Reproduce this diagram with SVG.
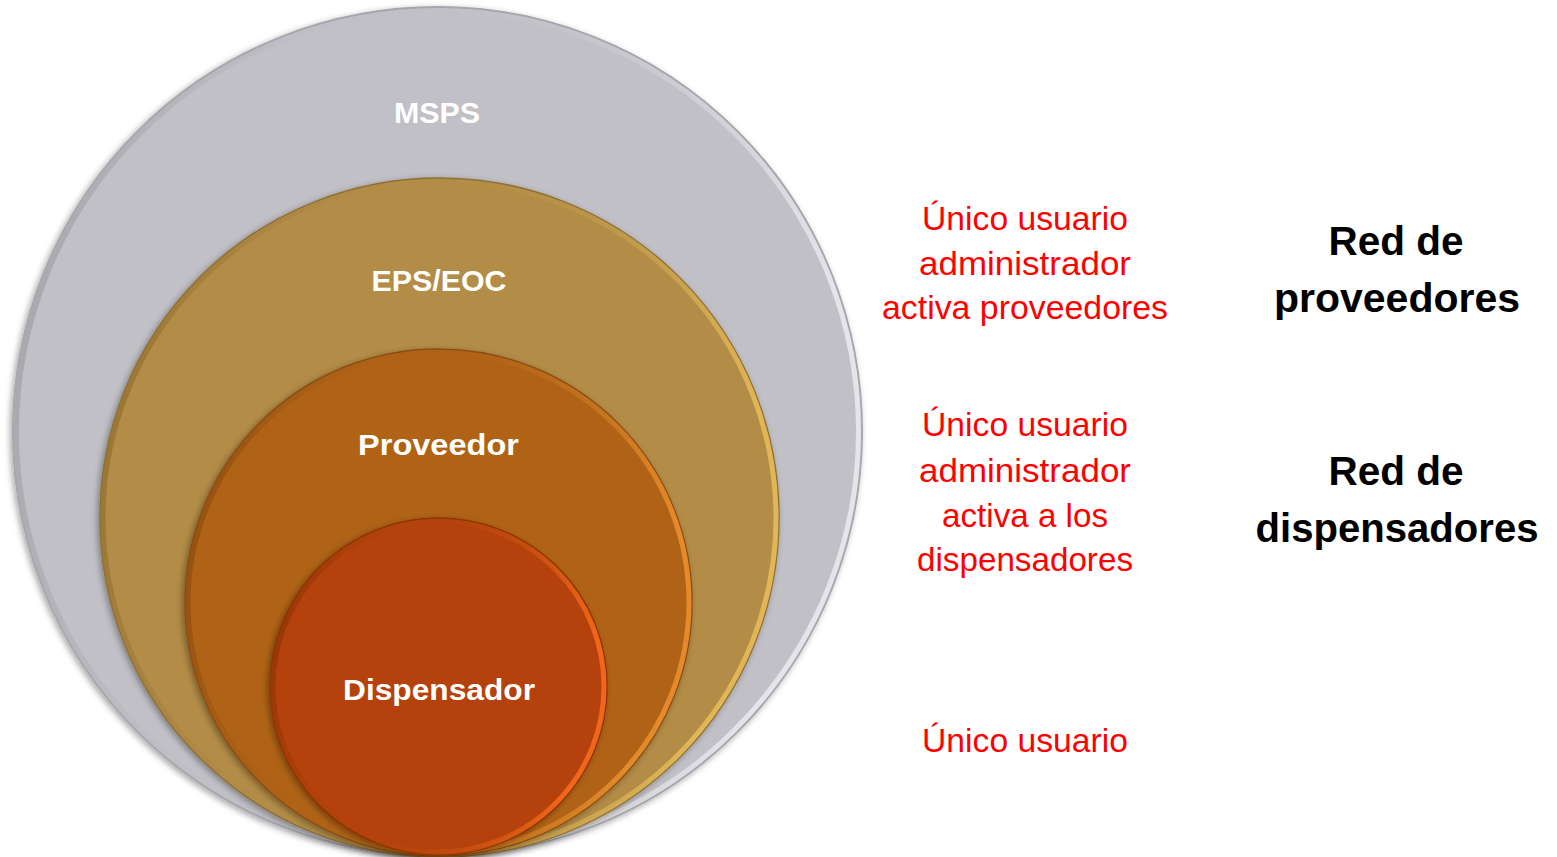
<svg xmlns="http://www.w3.org/2000/svg" width="1557" height="857" viewBox="0 0 1557 857">
  <defs>
    <filter id="shadow" x="-10%" y="-10%" width="120%" height="120%">
      <feDropShadow dx="-2" dy="2" stdDeviation="3" flood-color="#000" flood-opacity="0.35"/>
    </filter>
    <linearGradient id="rimGray" x1="0" y1="0" x2="1" y2="0.2">
      <stop offset="0" stop-color="#9C9CA2"/>
      <stop offset="0.45" stop-color="#C1C0C6" stop-opacity="0"/>
      <stop offset="1" stop-color="#E4E4EA"/>
    </linearGradient>
    <linearGradient id="rimEps" x1="0" y1="0" x2="1" y2="0.2">
      <stop offset="0" stop-color="#8E6C2E"/>
      <stop offset="0.45" stop-color="#B38C47" stop-opacity="0"/>
      <stop offset="1" stop-color="#E0B656"/>
    </linearGradient>
    <linearGradient id="rimProv" x1="0" y1="0" x2="1" y2="0.2">
      <stop offset="0" stop-color="#8A4A0E"/>
      <stop offset="0.45" stop-color="#B06419" stop-opacity="0"/>
      <stop offset="1" stop-color="#E48A2A"/>
    </linearGradient>
    <linearGradient id="rimDisp" x1="0" y1="0" x2="1" y2="0.2">
      <stop offset="0" stop-color="#8C3205"/>
      <stop offset="0.45" stop-color="#B54308" stop-opacity="0"/>
      <stop offset="1" stop-color="#F0661A"/>
    </linearGradient>
    <style>
      .lbl { font-family: "Liberation Sans", Arial, sans-serif; font-weight: bold; font-size: 30px; fill: #FFFFFF; text-anchor: middle; }
      .red { font-family: "Liberation Sans", Arial, sans-serif; font-size: 33px; fill: #FF0000; text-anchor: middle; }
      .blk { font-family: "Liberation Sans", Arial, sans-serif; font-weight: bold; font-size: 41px; fill: #000000; text-anchor: middle; }
      .rim { fill: none; stroke-width: 5; }
    </style>
  </defs>
  <rect width="1557" height="857" fill="#FFFFFF"/>

  <g id="connectors"></g>

  <g id="msps">
    <circle cx="437.5" cy="431.5" r="424.5" fill="#C1C0C6" stroke="#A6A6AC" stroke-width="2" filter="url(#shadow)"/>
    <circle class="rim" cx="437.5" cy="431.5" r="421" stroke="url(#rimGray)"/>
    <text class="lbl" x="437" y="123" textLength="86" lengthAdjust="spacingAndGlyphs">MSPS</text>
  </g>

  <g id="eps-eoc">
    <circle cx="439.5" cy="517.5" r="339.5" fill="#B38C47" stroke="#8F6F33" stroke-width="1.5" filter="url(#shadow)"/>
    <circle class="rim" cx="439.5" cy="517.5" r="336.5" stroke="url(#rimEps)"/>
    <text class="lbl" x="439" y="291" textLength="135" lengthAdjust="spacingAndGlyphs">EPS/EOC</text>
  </g>

  <g id="proveedor">
    <circle cx="438.5" cy="602.5" r="253.5" fill="#B06419" stroke="#8C4C12" stroke-width="1.5" filter="url(#shadow)"/>
    <circle class="rim" cx="438.5" cy="602.5" r="250.5" stroke="url(#rimProv)"/>
    <text class="lbl" x="438.5" y="455" textLength="161" lengthAdjust="spacingAndGlyphs">Proveedor</text>
  </g>

  <g id="dispensador">
    <circle cx="438.5" cy="686.5" r="168.5" fill="#B54308" stroke="#8E3406" stroke-width="1.5" filter="url(#shadow)"/>
    <circle class="rim" cx="438.5" cy="686.5" r="165.5" stroke="url(#rimDisp)"/>
    <text class="lbl" x="439" y="700" textLength="192" lengthAdjust="spacingAndGlyphs">Dispensador</text>
  </g>

  <g id="nota-proveedores">
    <text class="red" x="1025" y="230" textLength="206" lengthAdjust="spacingAndGlyphs">Único usuario</text>
    <text class="red" x="1025" y="275" textLength="212" lengthAdjust="spacingAndGlyphs">administrador</text>
    <text class="red" x="1025" y="319" textLength="286" lengthAdjust="spacingAndGlyphs">activa proveedores</text>
  </g>

  <g id="nota-dispensadores">
    <text class="red" x="1025" y="436" textLength="206" lengthAdjust="spacingAndGlyphs">Único usuario</text>
    <text class="red" x="1025" y="482" textLength="212" lengthAdjust="spacingAndGlyphs">administrador</text>
    <text class="red" x="1025" y="527" textLength="166" lengthAdjust="spacingAndGlyphs">activa a los</text>
    <text class="red" x="1025" y="571" textLength="216" lengthAdjust="spacingAndGlyphs">dispensadores</text>
  </g>

  <g id="nota-usuario">
    <text class="red" x="1025" y="752" textLength="206" lengthAdjust="spacingAndGlyphs">Único usuario</text>
  </g>

  <g id="red-proveedores">
    <text class="blk" x="1396" y="255" textLength="135" lengthAdjust="spacingAndGlyphs">Red de</text>
    <text class="blk" x="1397" y="312" textLength="246" lengthAdjust="spacingAndGlyphs">proveedores</text>
  </g>

  <g id="red-dispensadores">
    <text class="blk" x="1396" y="485" textLength="135" lengthAdjust="spacingAndGlyphs">Red de</text>
    <text class="blk" x="1397" y="542" textLength="283" lengthAdjust="spacingAndGlyphs">dispensadores</text>
  </g>
</svg>
